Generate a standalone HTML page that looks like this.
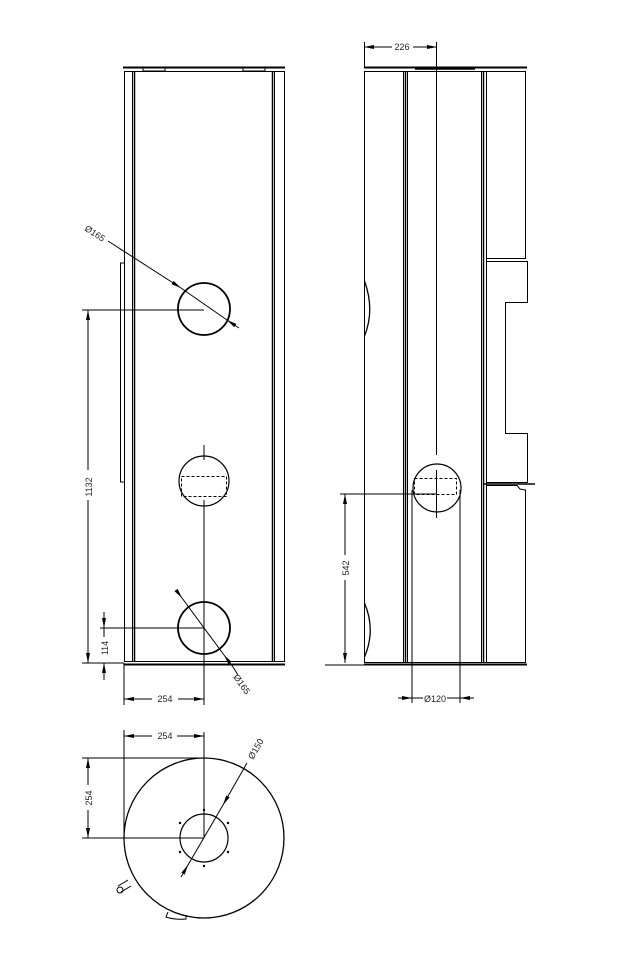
<!DOCTYPE html>
<html><head><meta charset="utf-8"><style>
html,body{margin:0;padding:0;background:#fff;}
svg{display:block}
text{font-family:"Liberation Sans",sans-serif;font-size:9px;fill:#222}
</style></head><body>
<svg width="644" height="975" viewBox="0 0 644 975" xmlns="http://www.w3.org/2000/svg">
<defs>
<marker id="a" viewBox="0 0 10 4" refX="10" refY="2" markerWidth="10" markerHeight="4" markerUnits="userSpaceOnUse" orient="auto-start-reverse"><path d="M0,0L10,2L0,4Z" fill="#000"/></marker>
</defs>
<g fill="none" stroke="#000" stroke-width="1">
<!-- FRONT VIEW -->
<line x1="123" y1="67.5" x2="285" y2="67.5" stroke-width="2"/>
<rect x="124.5" y="71.5" width="160" height="590"/>
<line x1="132.5" y1="71" x2="132.5" y2="662"/><line x1="134.5" y1="71" x2="134.5" y2="662" stroke-width="1.5"/>
<line x1="272.5" y1="71" x2="272.5" y2="662" stroke-width="1.5"/><line x1="274.5" y1="71" x2="274.5" y2="662"/>
<line x1="124" y1="664.5" x2="285" y2="664.5" stroke-width="2"/>
<polyline points="124,263 120.5,263 120.5,482 124,482"/>
<rect x="143" y="68" width="22" height="3"/><rect x="243" y="68" width="22" height="3"/>
<circle cx="204" cy="309" r="26" stroke-width="1.8"/>
<circle cx="204" cy="481" r="25" stroke-width="1.2"/>
<rect x="181.5" y="476.5" width="45" height="20" stroke-dasharray="3,2"/>
<circle cx="204" cy="628" r="26" stroke-width="1.8"/>
<line x1="204" y1="445" x2="204" y2="460"/>
<line x1="204" y1="500" x2="204" y2="705"/>
<!-- dim 1132 -->
<line x1="82" y1="310" x2="204" y2="310"/>
<line x1="82" y1="663" x2="124" y2="663"/>
<line x1="88" y1="310" x2="88" y2="470" marker-start="url(#a)"/>
<line x1="88" y1="500" x2="88" y2="663" marker-end="url(#a)"/>
<!-- dim 114 -->
<line x1="100" y1="628" x2="204" y2="628"/>
<line x1="104" y1="612" x2="104" y2="628" marker-end="url(#a)"/>
<line x1="104" y1="628" x2="104" y2="637"/>
<line x1="104" y1="680" x2="104" y2="663" marker-end="url(#a)"/>
<!-- dim 254 -->
<line x1="124" y1="663" x2="124" y2="705"/>
<line x1="124" y1="699" x2="152" y2="699" marker-start="url(#a)"/>
<line x1="178" y1="699" x2="204" y2="699" marker-end="url(#a)"/>
<!-- dia 165 leaders -->
<line x1="108" y1="241" x2="181" y2="288" marker-end="url(#a)"/>
<line x1="181" y1="288" x2="227" y2="320"/>
<line x1="227" y1="320" x2="239" y2="328" marker-start="url(#a)"/>
<line x1="176" y1="590" x2="182" y2="598" marker-end="url(#a)"/>
<line x1="182" y1="598" x2="224" y2="655"/>
<line x1="224" y1="655" x2="233" y2="667" marker-start="url(#a)"/>
<line x1="233" y1="667" x2="238" y2="675"/>

<!-- SIDE VIEW -->
<line x1="364" y1="67.5" x2="527" y2="67.5" stroke-width="2"/>
<line x1="415" y1="69" x2="475" y2="69" stroke-width="1.5"/>
<polyline points="364.5,71.5 525.5,71.5 525.5,258.5 486,258.5"/>
<line x1="364.5" y1="71" x2="364.5" y2="662"/>
<line x1="403.5" y1="71" x2="403.5" y2="662"/><line x1="405.5" y1="71" x2="405.5" y2="662" stroke-width="1.5"/><line x1="407.5" y1="71" x2="407.5" y2="662"/>
<line x1="481.5" y1="71" x2="481.5" y2="662"/><line x1="483.5" y1="71" x2="483.5" y2="662" stroke-width="1.5"/><line x1="486.5" y1="71" x2="486.5" y2="662"/>
<polyline points="486,261.5 527.5,261.5 527.5,302.5 505.5,302.5 505.5,433.5 527.5,433.5 527.5,482.5 486,482.5"/>
<polyline points="486,485.5 517,485.5 520,489 525.5,490 525.5,662.5 364,662.5"/>
<line x1="484" y1="484" x2="535" y2="484" stroke-width="1.5"/>
<line x1="364" y1="664.5" x2="527" y2="664.5" stroke-width="2"/>
<line x1="325" y1="665" x2="364" y2="665"/>
<path d="M364.5,281 Q375,310 364.5,336" stroke-width="1.3"/>
<path d="M364.5,603 Q376,630 364.5,657" stroke-width="1.3"/>
<circle cx="437" cy="488" r="24" stroke-width="1.2"/>
<rect x="414.5" y="478.5" width="42" height="16" stroke-dasharray="3,2"/>
<line x1="436.5" y1="42" x2="436.5" y2="455"/>
<line x1="436.5" y1="470" x2="436.5" y2="518"/>
<line x1="412" y1="490" x2="412" y2="703"/>
<line x1="460" y1="490" x2="460" y2="703"/>
<!-- dim 226 -->
<line x1="364.5" y1="42" x2="364.5" y2="67"/>
<line x1="364" y1="47" x2="392" y2="47" marker-start="url(#a)"/>
<line x1="413" y1="47" x2="437" y2="47" marker-end="url(#a)"/>
<!-- dim 542 -->
<line x1="340" y1="494" x2="437" y2="494"/>
<line x1="345" y1="494" x2="345" y2="555" marker-start="url(#a)"/>
<line x1="345" y1="580" x2="345" y2="663" marker-end="url(#a)"/>
<!-- dia 120 -->
<line x1="398" y1="698" x2="412" y2="698" marker-end="url(#a)"/>
<line x1="412" y1="698" x2="423" y2="698"/>
<line x1="447" y1="698" x2="460" y2="698"/>
<line x1="474" y1="698" x2="460" y2="698" marker-end="url(#a)"/>

<!-- TOP VIEW -->
<circle cx="204" cy="838" r="80" stroke-width="1.3"/>
<circle cx="204" cy="838" r="24" stroke-width="1.2"/>
<line x1="82" y1="758" x2="204" y2="758"/>
<line x1="82" y1="838" x2="204" y2="838"/>
<line x1="204" y1="732" x2="204" y2="838"/>
<line x1="124" y1="730" x2="124" y2="838"/>
<line x1="124" y1="736" x2="152" y2="736" marker-start="url(#a)"/>
<line x1="177" y1="736" x2="204" y2="736" marker-end="url(#a)"/>
<line x1="88" y1="758" x2="88" y2="785" marker-start="url(#a)"/>
<line x1="88" y1="810" x2="88" y2="838" marker-end="url(#a)"/>
<line x1="247" y1="763" x2="223" y2="805" marker-end="url(#a)"/>
<line x1="223" y1="805" x2="188" y2="865"/>
<line x1="188" y1="865" x2="181" y2="877" marker-start="url(#a)"/>
<path d="M128,880 L118,886 M131,886 L121,892"/>
<circle cx="120" cy="890" r="3"/>
<path d="M168,912 L166,917 Q175,920 186,919 L186,915"/>
</g>
<g fill="#000">
<circle cx="204" cy="810" r="1.2"/><circle cx="204" cy="866" r="1.2"/>
<circle cx="180" cy="823" r="1.2"/><circle cx="228" cy="823" r="1.2"/>
<circle cx="180" cy="852" r="1.2"/><circle cx="228" cy="852" r="1.2"/>
</g>
<text x="0" y="0" transform="translate(92,487) rotate(-90)" text-anchor="middle">1132</text>
<text x="0" y="0" transform="translate(108,648) rotate(-90)" text-anchor="middle">114</text>
<text x="165" y="702" text-anchor="middle">254</text>
<text x="165" y="739" text-anchor="middle">254</text>
<text x="0" y="0" transform="translate(92,798) rotate(-90)" text-anchor="middle">254</text>
<text x="0" y="0" transform="translate(349,568) rotate(-90)" text-anchor="middle">542</text>
<text x="402" y="50" text-anchor="middle">226</text>
<text x="435" y="702" text-anchor="middle">Ø120</text>
<text transform="translate(84,230) rotate(33)">Ø165</text>
<text transform="translate(233,677) rotate(55)">Ø165</text>
<text transform="translate(253,760) rotate(-60)">Ø150</text>
</svg>
</body></html>
